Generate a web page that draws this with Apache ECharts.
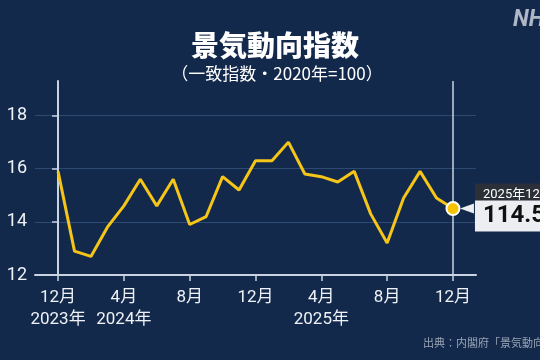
<!DOCTYPE html>
<html>
<head>
<meta charset="utf-8">
<script src="https://cdn.jsdelivr.net/npm/echarts@6/dist/echarts.min.js"></script>
<style>
html,body{margin:0;padding:0;background:#13294b;}
#c{width:540px;height:360px;}
</style>
</head>
<body>
<div id="c"></div>
<script>
const months = ['2023-12','2024-01','2024-02','2024-03','2024-04','2024-05','2024-06','2024-07','2024-08','2024-09','2024-10','2024-11','2024-12','2025-01','2025-02','2025-03','2025-04','2025-05','2025-06','2025-07','2025-08','2025-09','2025-10','2025-11','2025-12'];
const values = [115.9,112.9,112.7,113.8,114.6,115.6,114.6,115.6,113.9,114.2,115.7,115.2,116.3,116.3,117.0,115.8,115.7,115.5,115.9,114.3,113.2,114.9,115.9,114.9,114.5];
const tickIndex = [0,4,8,12,16,20,24];
const tickLabels = ['12月\n2023年','4月\n2024年','8月','12月','4月\n2025年','8月','12月'];
const yTickValues = [112,114,116,118];
const yTickLabels = ['12','14','16','18'];
const lastLabel = '2025年12月';

const chart = echarts.init(document.getElementById('c'), null, {renderer:'canvas'});
const lastIdx = values.length - 1;
const lineData = values.map((v,i)=>[i,v]);
const lastPoint = [lastIdx, values[lastIdx]];
const axisColor = '#c9d3e1';
const font = 'Roboto, "Noto Sans CJK JP", sans-serif';

chart.setOption({
  backgroundColor: '#13294b',
  animation: false,
  title: [
    {text: '景気動向指数', left: 270, top: 26, textAlign: 'center',
     textStyle: {color: '#ffffff', fontSize: 28, fontWeight: 900, fontFamily: '"Noto Sans CJK JP", sans-serif'}},
    {text: '（一致指数・2020年=100）', left: 272, top: 60, textAlign: 'center',
     textStyle: {color: '#ffffff', fontSize: 17, fontWeight: 'normal', fontFamily: '"Noto Sans CJK JP", sans-serif'}},
    {text: 'NHK', left: 508, top: 4,
     textStyle: {color: '#aeb7c6', fontSize: 23, fontWeight: 'bold', fontStyle: 'italic', fontFamily: 'Roboto, sans-serif'}},
    {text: '出典：内閣府「景気動向指数」', left: 418, top: 332,
     textStyle: {color: '#9aa5b6', fontSize: 11, fontWeight: 'normal', fontFamily: '"Noto Sans CJK JP", sans-serif'}}
  ],
  grid: {left: 35, right: 64, top: 81, bottom: 85, containLabel: false},
  xAxis: {
    type: 'value', min: -1.4, max: 25.4,
    axisLine: {show: true, lineStyle: {color: axisColor, width: 2}},
    axisTick: {show: true, customValues: tickIndex, length: 6, lineStyle: {color: axisColor, width: 1.5}},
    axisLabel: {show: true, customValues: tickIndex, margin: 12, color: '#eef2f7', fontSize: 17, lineHeight: 22,
      fontFamily: font,
      formatter: v => tickLabels[tickIndex.indexOf(Math.round(v))] || ''},
    splitLine: {show: false}
  },
  yAxis: {
    type: 'value', min: 112, max: 119.3, interval: 2,
    axisLine: {show: true, lineStyle: {color: axisColor, width: 2}},
    axisTick: {show: true, length: 6, lineStyle: {color: axisColor, width: 1.5}},
    axisLabel: {margin: 8, color: '#eef2f7', fontSize: 18, fontFamily: font, showMaxLabel: false,
      formatter: v => { const k = yTickValues.indexOf(v); return k >= 0 ? yTickLabels[k] : ''; }},
    splitLine: {show: true, showMaxLine: false, lineStyle: {color: '#2d4a73', width: 1}}
  },
  series: [
    {
      type: 'line', data: lineData, symbol: 'none', smooth: false,
      lineStyle: {color: '#f5c518', width: 3},
      z: 3,
      markLine: {
        silent: true, symbol: 'none',
        lineStyle: {color: axisColor, width: 1.5, type: 'solid'},
        label: {show: false},
        data: [{xAxis: lastIdx}]
      }
    },
    {
      type: 'scatter', data: [lastPoint], symbol: 'circle', symbolSize: 13, z: 5,
      itemStyle: {color: '#f7c300', borderColor: '#ffffff', borderWidth: 2, opacity: 1},
      label: {
        show: true, position: 'right', distance: 14.5,
        formatter: p => '{a|' + lastLabel + '}\n{b|' + p.value[1].toFixed(1) + '}',
        rich: {
          a: {color: '#ffffff', backgroundColor: '#2b3038', fontSize: 13, fontFamily: font,
              padding: [4, 8, 4, 8], width: 90, height: 15, lineHeight: 15},
          b: {color: '#111111', backgroundColor: '#eceef1', fontSize: 24, fontWeight: 'bold', fontFamily: font,
              padding: [2, 8, 2, 8], width: 90, height: 27, lineHeight: 27}
        }
      },
      markPoint: {
        silent: true,
        symbol: 'triangle', symbolSize: [10, 14], symbolRotate: 90, symbolOffset: [14, 0],
        itemStyle: {color: '#eceef1'},
        label: {show: false},
        data: [{coord: lastPoint}]
      }
    }
  ]
});
</script>
</body>
</html>
